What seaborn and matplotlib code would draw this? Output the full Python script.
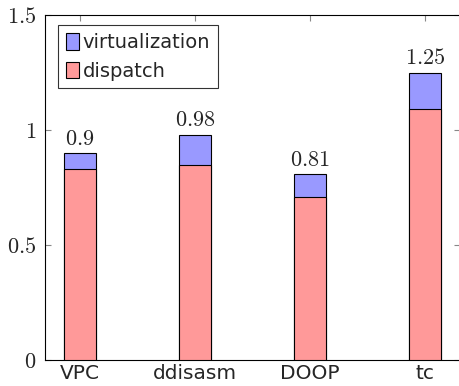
import matplotlib
matplotlib.use("Agg")
import matplotlib.pyplot as plt
import seaborn as sns
import pandas as pd
from matplotlib.patches import Patch

# Data
tools = ["VPC", "ddisasm", "DOOP", "tc"]
dispatch = [0.83, 0.85, 0.71, 1.09]
total = [0.90, 0.98, 0.81, 1.25]
total_labels = ["0.9", "0.98", "0.81", "1.25"]
y_ticks = [0, 0.5, 1, 1.5]
y_tick_labels = ["0", "0.5", "1", "1.5"]

sns.set_theme(style="white")
plt.rcParams["font.family"] = ["DejaVu Sans"]
plt.rcParams["mathtext.fontset"] = "cm"

blue = "#9999ff"
red = "#ff9999"

df = pd.DataFrame({"tool": tools, "dispatch": dispatch, "total": total})

fig = plt.figure(figsize=(4.59, 3.86), dpi=100)
ax = fig.add_axes([45 / 459, 1 - 360 / 386, 415 / 459, 345 / 386])

# stacked bars: full height in blue, dispatch share in red on top of it
sns.barplot(data=df, x="tool", y="total", color=blue, saturation=1,
            width=0.28, edgecolor="black", linewidth=0.8, ax=ax, zorder=3)
sns.barplot(data=df, x="tool", y="dispatch", color=red, saturation=1,
            width=0.28, edgecolor="black", linewidth=0.8, ax=ax, zorder=3)

for i, (v, lab) in enumerate(zip(total, total_labels)):
    ax.annotate(f"${lab}$", xy=(i, v), xytext=(0, 3), textcoords="offset points",
                ha="center", va="bottom", fontsize=16)

ax.set_xlim(-0.304, 3.304)
ax.set_ylim(0, 1.5)
ax.set_yticks(y_ticks)
ax.set_yticklabels([f"${t}$" for t in y_tick_labels], fontsize=16)
ax.set_xticks(range(len(tools)))
ax.set_xticklabels(tools, fontsize=14.5)
ax.set_xlabel("")
ax.set_ylabel("")

ax.tick_params(axis="both", which="both", direction="in", length=4,
               width=0.8, color="#888888", top=True, right=True,
               bottom=True, left=True)
ax.tick_params(axis="x", pad=3)
ax.tick_params(axis="y", pad=6)
for s in ax.spines.values():
    s.set_visible(True)
    s.set_color("black")
    s.set_linewidth(0.8)

handles = [Patch(facecolor=blue, edgecolor="black", linewidth=0.8, label="virtualization"),
           Patch(facecolor=red, edgecolor="black", linewidth=0.8, label="dispatch")]
leg = ax.legend(handles=handles, loc="upper left", bbox_to_anchor=(0.031, 0.971),
                fontsize=14, frameon=True, fancybox=False, handlelength=0.67,
                handleheight=0.95, handletextpad=0.2, borderpad=0.4,
                labelspacing=0.5, borderaxespad=0)
leg.get_frame().set_edgecolor("black")
leg.get_frame().set_linewidth(0.8)

fig.savefig("out.png", dpi=100)
